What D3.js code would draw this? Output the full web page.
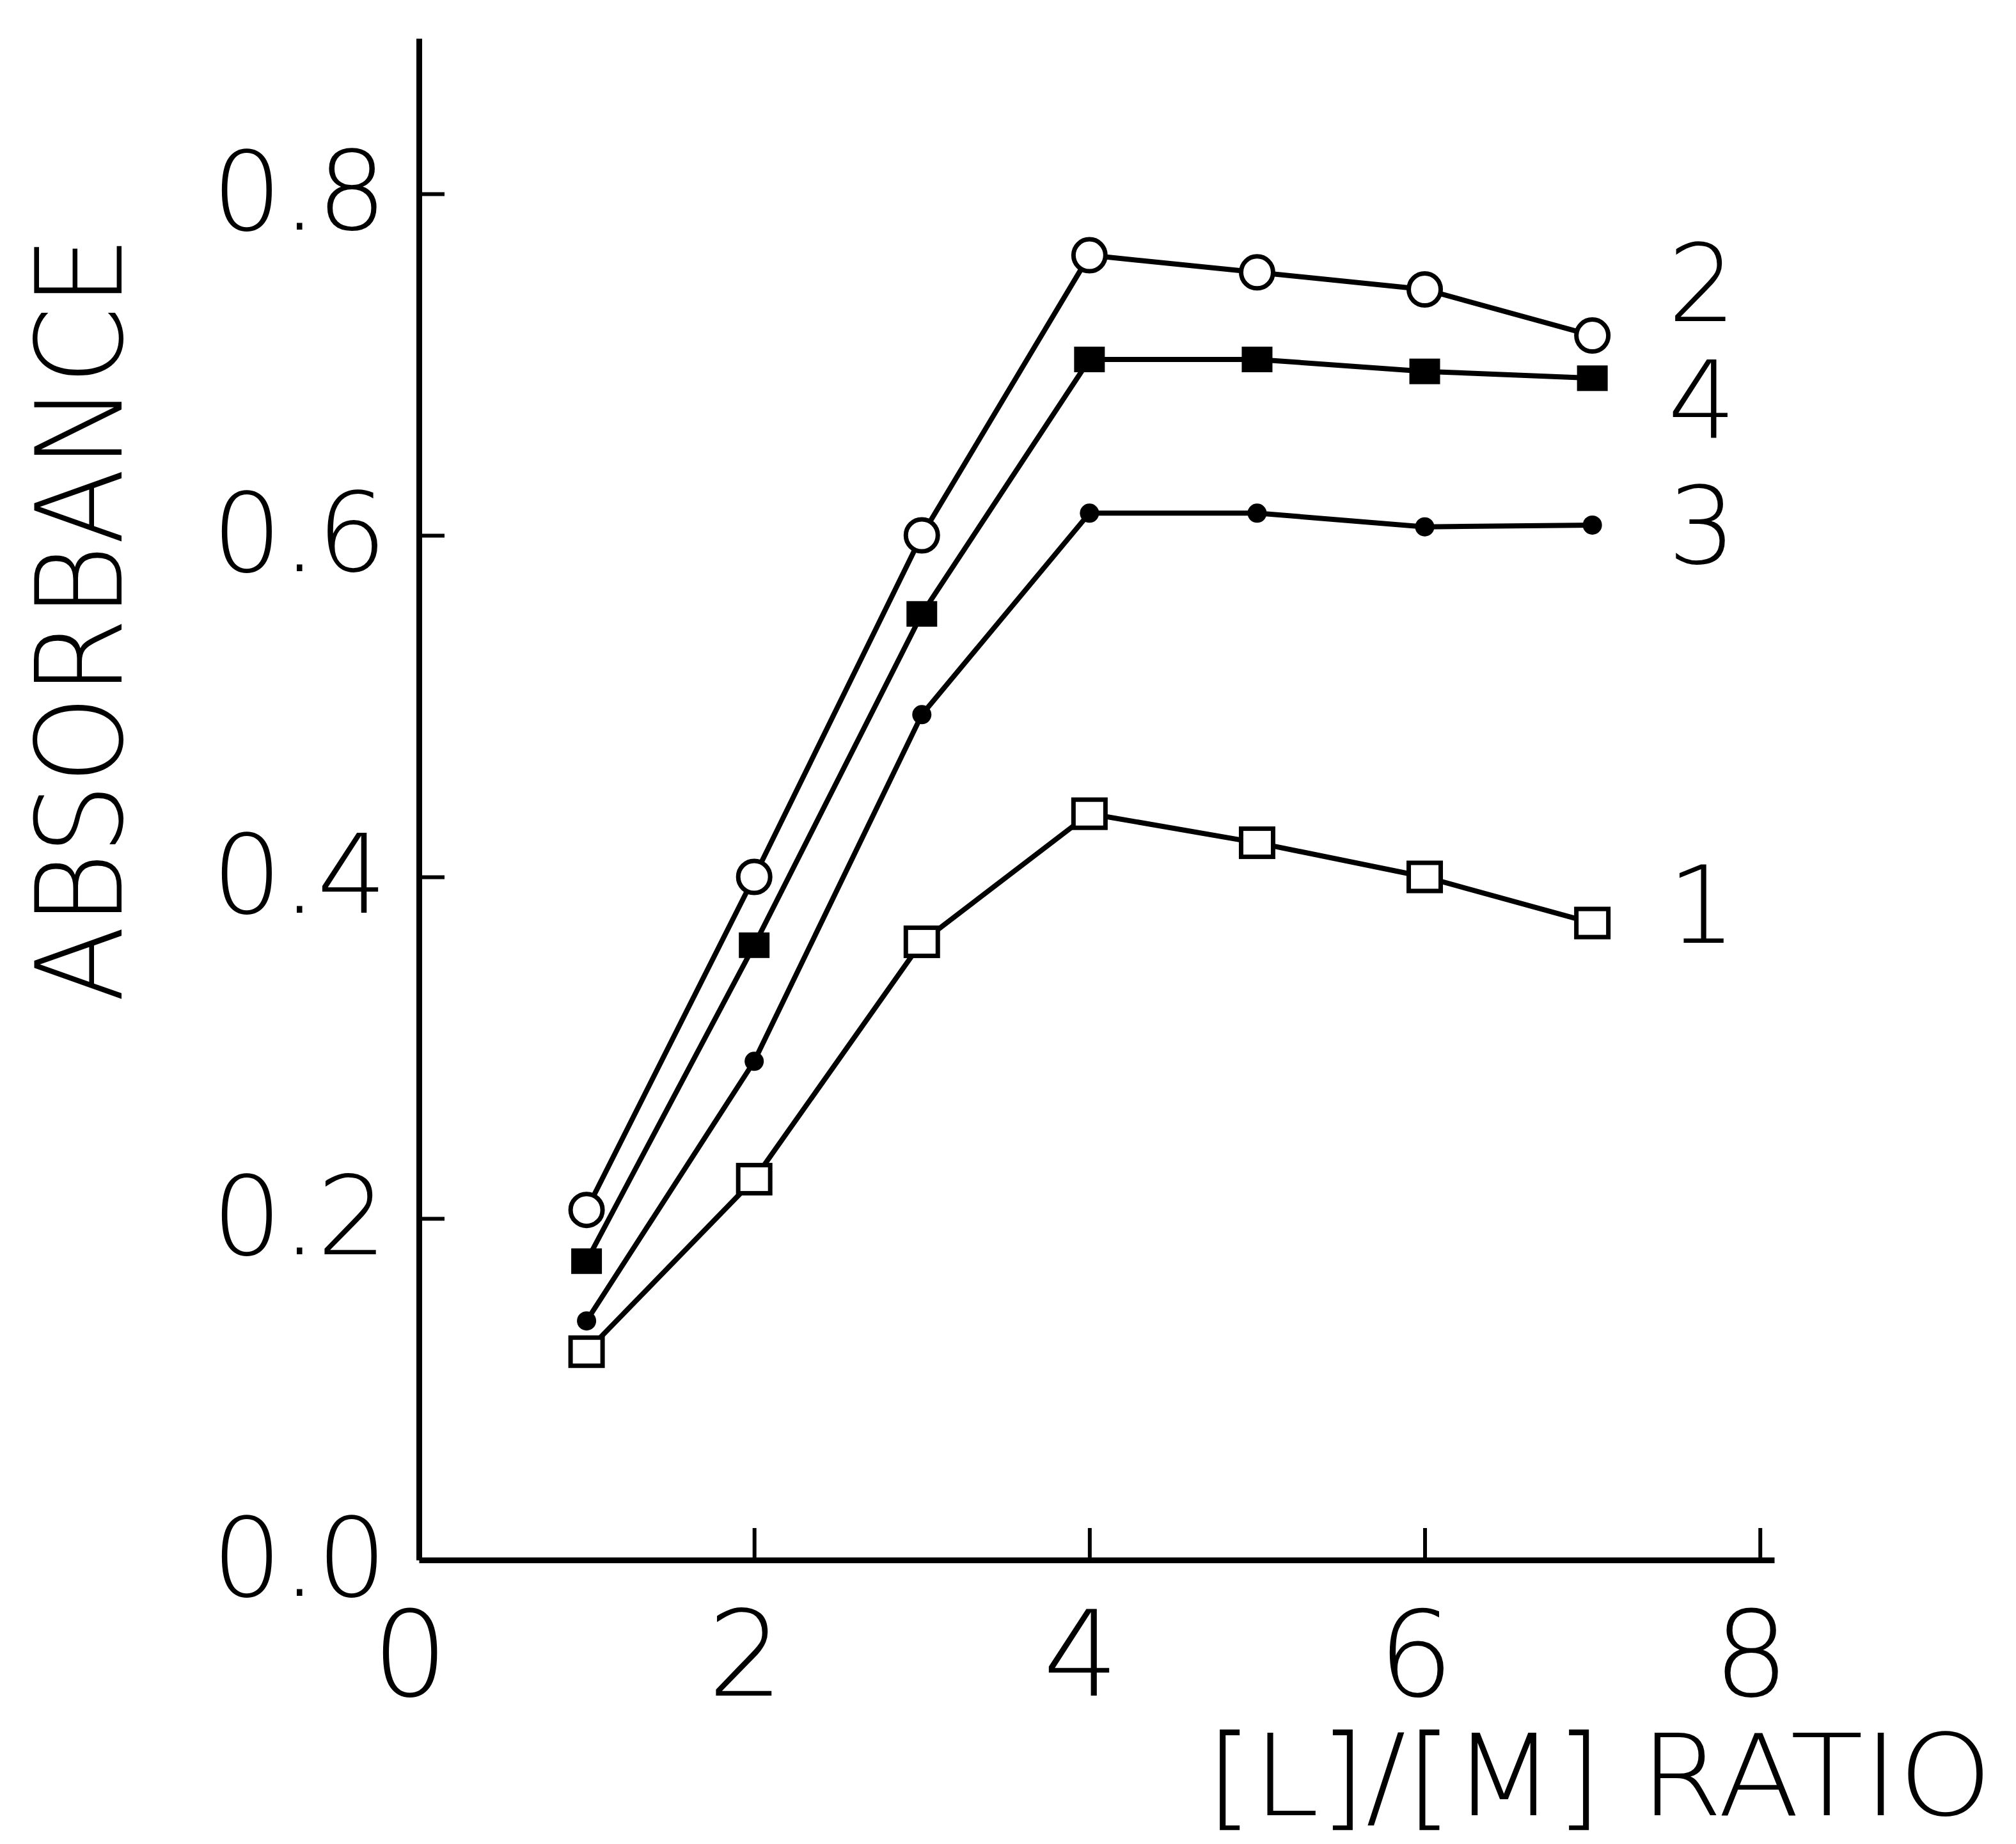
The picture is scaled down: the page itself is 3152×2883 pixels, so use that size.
<!DOCTYPE html>
<html>
<head>
<meta charset="utf-8">
<script src="https://cdn.jsdelivr.net/npm/d3@7"></script>
<style>
  body { margin: 0; background: #fff; }
  text { font-family: "DejaVu Sans ExtraLight", "DejaVu Sans", sans-serif; font-weight: 200; fill: #000; }
</style>
</head>
<body>
<div id="chart"></div>
<script>
(function() {
  var width = 3152,
      height = 2883;

  // values
  const ratio = [1, 2, 3, 4, 5, 6, 7];
  const series1 = [0.122, 0.223, 0.362, 0.437, 0.420, 0.400, 0.373];
  const series2 = [0.205, 0.400, 0.600, 0.764, 0.754, 0.744, 0.717];
  const series3 = [0.140, 0.292, 0.495, 0.613, 0.613, 0.605, 0.606];
  const series4 = [0.175, 0.360, 0.554, 0.703, 0.703, 0.696, 0.692];
  const seriesNames = ["1", "2", "3", "4"];
  const labelValues = [0.384, 0.748, 0.606, 0.680]; // where each curve number sits
  const xTicks = [0, 2, 4, 6, 8];
  const yTicks = [0.0, 0.2, 0.4, 0.6, 0.8];

  const svg = d3.select("#chart").append("svg")
                .attr("width", width)
                .attr("height", height);

  // scales
  var x = d3.scaleLinear().domain([0, 8.085]).range([655, 2774]);
  var y = d3.scaleLinear().domain([0, 0.891]).range([2439, 60]);

  // x axis, ticks pointing up into the plot
  const xAxis = svg.append("g")
    .attr("transform", "translate(0," + y(0) + ")")
    .call(d3.axisBottom(x).tickValues(xTicks).tickSize(-50).tickSizeOuter(0)
            .tickPadding(80).tickFormat(d3.format("d")));
  xAxis.select(".domain").attr("stroke-width", 9);
  xAxis.selectAll(".tick line").attr("stroke-width", 6)
       .filter(d => d === 0).remove();
  xAxis.selectAll(".tick text")
       .attr("font-size", 186)
       .attr("dx", -14);

  // y axis, ticks pointing right into the plot
  const yAxis = svg.append("g")
    .attr("transform", "translate(" + x(0) + ",0)")
    .call(d3.axisLeft(y).tickValues(yTicks).tickSize(-40).tickSizeOuter(0)
            .tickPadding(50).tickFormat(d3.format(".1f")));
  yAxis.select(".domain").attr("stroke-width", 9);
  yAxis.selectAll(".tick line").attr("stroke-width", 6)
       .filter(d => d === 0).remove();
  yAxis.selectAll(".tick text")
       .attr("font-size", 172);

  // axis titles
  svg.append("text")
     .attr("transform", "translate(" + 190 + "," + 968 + ") rotate(-90)")
     .attr("text-anchor", "middle")
     .attr("font-size", 188)
     .attr("textLength", 1198)
     .attr("lengthAdjust", "spacingAndGlyphs")
     .text("ABSORBANCE");

  svg.append("text")
     .attr("x", 1886)
     .attr("y", 2838)
     .attr("font-size", 176)
     .attr("textLength", 1229)
     .attr("lengthAdjust", "spacingAndGlyphs")
     .text("[L]/[M] RATIO");

  // curves
  const allSeries = [series1, series2, series3, series4];
  var line = d3.line()
               .x((d, i) => x(ratio[i]))
               .y(d => y(d));

  svg.append("g")
     .selectAll("path")
     .data(allSeries)
     .join("path")
     .attr("d", line)
     .attr("fill", "none")
     .attr("stroke", "black")
     .attr("stroke-width", 8);

  // markers
  // 1: open squares
  svg.append("g").selectAll("rect")
     .data(series1)
     .join("rect")
     .attr("x", (d, i) => x(ratio[i]) - 25)
     .attr("y", d => y(d) - 22)
     .attr("width", 50)
     .attr("height", 44)
     .attr("fill", "white")
     .attr("stroke", "black")
     .attr("stroke-width", 7);

  // 2: open circles
  svg.append("g").selectAll("circle")
     .data(series2)
     .join("circle")
     .attr("cx", (d, i) => x(ratio[i]))
     .attr("cy", d => y(d))
     .attr("r", 25)
     .attr("fill", "white")
     .attr("stroke", "black")
     .attr("stroke-width", 7);

  // 3: small filled circles
  svg.append("g").selectAll("circle")
     .data(series3)
     .join("circle")
     .attr("cx", (d, i) => x(ratio[i]))
     .attr("cy", d => y(d))
     .attr("r", 15)
     .attr("fill", "black");

  // 4: filled squares
  svg.append("g").selectAll("rect")
     .data(series4)
     .join("rect")
     .attr("x", (d, i) => x(ratio[i]) - 24)
     .attr("y", d => y(d) - 20)
     .attr("width", 48)
     .attr("height", 40)
     .attr("fill", "black");

  // curve numbers at the right end
  svg.append("g").selectAll("text")
     .data(seriesNames)
     .join("text")
     .attr("x", x(7.45))
     .attr("y", (d, i) => y(labelValues[i]))
     .attr("dy", "0.36em")
     .attr("font-size", 168)
     .text(d => d);
})();
</script>
</body>
</html>
